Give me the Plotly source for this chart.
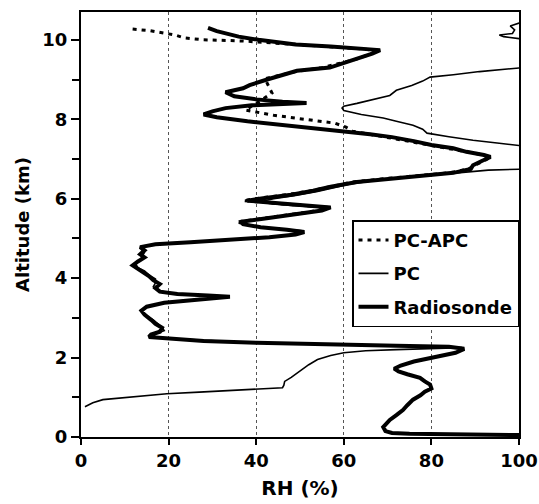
import plotly.graph_objects as go

# ---------------- data (RH in %, altitude in km) ----------------
radiosonde_alt = [0.05, 0.06, 0.08, 0.10, 0.15, 0.25, 0.43, 0.55, 0.68, 0.80, 0.94, 1.05, 1.14, 1.22,
                  1.32, 1.40, 1.49, 1.58, 1.65, 1.72, 1.80, 1.90, 2.03, 2.12, 2.22, 2.27, 2.30, 2.33,
                  2.37, 2.42, 2.47, 2.52, 2.58, 2.65, 2.75, 2.85, 2.95, 3.08, 3.18, 3.28, 3.38, 3.45,
                  3.50, 3.53, 3.56, 3.60, 3.66, 3.75, 3.85, 3.95, 4.05, 4.15, 4.25, 4.32, 4.42, 4.52,
                  4.60, 4.70, 4.78, 4.85, 4.90, 4.96, 5.03, 5.10, 5.16, 5.22, 5.28, 5.36, 5.42, 5.50,
                  5.60, 5.70, 5.78, 5.84, 5.90, 5.95, 6.02, 6.10, 6.20, 6.30, 6.42, 6.50, 6.58, 6.65,
                  6.75, 6.84, 6.95, 7.05, 7.10, 7.18, 7.27, 7.35, 7.45, 7.55, 7.62, 7.70, 7.78, 7.85,
                  7.95, 8.05, 8.12, 8.20, 8.28, 8.35, 8.39, 8.41, 8.44, 8.50, 8.58, 8.68, 8.78, 8.86,
                  9.00, 9.12, 9.22, 9.30, 9.42, 9.54, 9.65, 9.74, 9.78, 9.83, 9.88, 9.94, 10.00, 10.08,
                  10.15, 10.22, 10.30]
radiosonde_rh = [100, 85, 75, 71, 69.5, 69, 70.5, 72, 73.5, 74.5, 75.8, 77.5, 78.5, 80,
                 79.7, 78.5, 77.4, 74.5, 72.5, 71.5, 73, 76, 82, 85.5, 87.5, 84, 72, 55,
                 40, 28, 20, 15.5, 16, 18, 18.5, 17, 16, 14.5, 13.8, 15, 19, 25,
                 31, 34, 29, 22, 18, 17, 18, 16.5, 15.5, 14, 12.5, 11.8, 13, 14.5,
                 13.5, 14.5, 13.5, 17, 25, 35, 43, 49, 51, 47, 41, 37, 36.5, 42,
                 49, 55, 57, 50, 42, 38, 42, 48, 53, 57, 63, 70, 78, 85,
                 89, 89.5, 91.5, 93.5, 92, 88, 85, 80, 76, 71, 66, 59, 53, 46,
                 38, 31, 28, 30, 33, 39, 46, 51.5, 46, 40, 35, 33, 37, 38.5,
                 42.5, 46.5, 49.3, 56.8, 60, 63.7, 66.5, 68.3, 64, 57, 49, 44, 40.5, 36,
                 33, 31, 29]

pc_alt = [0.76, 0.86, 0.94, 0.97, 1.02, 1.09, 1.13, 1.16, 1.19, 1.22, 1.24, 1.30, 1.40, 1.50,
          1.62, 1.72, 1.82, 1.95, 2.05, 2.12, 2.17, 2.20, 2.23, 2.25, 2.28, 2.31, 2.35, 2.40,
          2.45, 2.50, 2.54, 2.60, 2.68, 2.76, 2.85, 2.95, 3.05, 3.15, 3.25, 3.33, 3.42, 3.48,
          3.52, 3.55, 3.58, 3.63, 3.70, 3.78, 3.88, 3.98, 4.08, 4.18, 4.26, 4.35, 4.45, 4.55,
          4.65, 4.75, 4.82, 4.88, 4.94, 5.00, 5.07, 5.13, 5.19, 5.24, 5.30, 5.38, 5.45, 5.55,
          5.64, 5.72, 5.78, 5.83, 5.88, 5.93, 6.00, 6.08, 6.18, 6.28, 6.38, 6.47, 6.55, 6.62,
          6.68, 6.72, 6.74, 6.76, 7.30, 7.34, 7.40, 7.47, 7.56, 7.65, 7.75, 7.85, 7.95, 8.03,
          8.12, 8.22, 8.28, 8.33, 8.40, 8.50, 8.60, 8.73, 8.85, 8.96, 9.06, 9.12, 9.20, 9.29,
          9.40, 10.00, 10.03, 10.08, 10.12, 10.16, 10.25, 10.35, 10.42, 10.50]
pc_rh = [0.9, 2.7, 5, 8, 13, 19.6, 27, 33, 39, 43, 46, 46.3, 46.5, 48,
         49.5, 50.5, 52, 54, 57, 60, 65, 72, 80, 87, 80, 65, 48, 34,
         24, 17, 15.8, 17, 19, 18.5, 17.5, 16.5, 15, 14, 14.5, 17, 22, 28,
         33, 30, 25, 20, 17.5, 16.5, 17, 17, 15.5, 14.5, 13, 12.5, 13.5, 14,
         14.5, 14, 15, 20, 30, 40, 47, 50, 50.5, 46, 40, 36, 38, 46,
         52, 56, 55, 48, 43, 41, 44, 49, 54, 58, 62, 68, 76, 83,
         88.5, 93, 100, 112, 115, 100, 95, 89.5, 84, 79, 78, 75.8, 72, 69,
         64, 60, 59.6, 60, 63, 67, 70.5, 72, 75.5, 78, 79.7, 85, 91, 100,
         112, 112, 100, 96.5, 95.5, 98.5, 99, 98, 100, 110]

apc_alt = [5.42, 5.50, 5.60, 5.70, 5.78, 5.84, 5.90, 5.95, 6.02, 6.10, 6.20, 6.30, 6.42, 6.50,
           6.58, 6.65, 6.75, 6.85, 6.95, 7.05, 7.12, 7.20, 7.30, 7.40, 7.50, 7.60, 7.70, 7.80,
           7.90, 8.00, 8.10, 8.18, 8.23, 8.40, 8.66, 9.02, 9.10, 9.20, 9.30, 9.40, 9.50, 9.62,
           9.73, 9.78, 9.83, 9.88, 9.93, 9.97, 10.00, 10.05, 10.12, 10.17, 10.23, 10.28]
apc_rh = [36, 41, 48, 54, 56.5, 50, 43, 37, 41, 47, 52.5, 56.5, 62, 69,
          77, 84, 88.5, 90, 92, 93.5, 91, 87, 82, 77, 72, 67, 62, 60.5,
          58, 51, 44, 40, 37.5, 40, 43.6, 42, 45, 49, 55, 59, 62.5, 65.5,
          68, 63, 56, 48.4, 42, 37, 28, 23.5, 21.5, 19, 15.7, 10.7]

x_ticks = [0, 20, 40, 60, 80, 100]
y_ticks = [0, 2, 4, 6, 8, 10]

FONT = "DejaVu Sans"

fig = go.Figure()
fig.add_trace(go.Scatter(x=radiosonde_rh, y=radiosonde_alt, mode="lines", name="Radiosonde",
                         line=dict(color="black", width=4), legendrank=3, legendgroup="c"))
fig.add_trace(go.Scatter(x=pc_rh, y=pc_alt, mode="lines", name="PC",
                         line=dict(color="black", width=1.6), legendrank=2, legendgroup="b"))
fig.add_trace(go.Scatter(x=apc_rh, y=apc_alt, mode="lines", name="PC-APC",
                         line=dict(color="black", width=3, dash="4px,5px"), legendrank=1, legendgroup="a"))

fig.update_layout(
    width=539, height=504,
    margin=dict(l=81, r=20, t=12, b=67),
    paper_bgcolor="white", plot_bgcolor="white",
    font=dict(family=FONT, size=18, color="black", weight="bold"),
    showlegend=True,
    legend=dict(x=1, xanchor="right", y=0.51, yanchor="top",
                bgcolor="white", bordercolor="black", borderwidth=1.5,
                font=dict(family=FONT, size=18, color="black", weight="bold"),
                itemwidth=30, tracegroupgap=7, traceorder="grouped"),
)
fig.update_xaxes(
    range=[0, 100], tickvals=x_ticks, ticks="outside", ticklen=6, tickwidth=2, tickcolor="black",
    showline=True, linewidth=2, linecolor="black", mirror=True, automargin=False,
    showgrid=True, gridcolor="#555", griddash="dot", gridwidth=1, zeroline=False,
    tickfont=dict(family=FONT, size=18, weight="bold"),
    title=dict(text="RH (%)", font=dict(family=FONT, size=20, weight="bold"), standoff=11),
)
fig.update_yaxes(
    range=[0, 10.7], tickvals=y_ticks, ticks="outside", ticklen=8, tickwidth=2, tickcolor="black",
    minor=dict(dtick=1, tick0=0, ticks="outside", ticklen=7, tickwidth=2, tickcolor="black", showgrid=False),
    showline=True, linewidth=2, linecolor="black", mirror=True, automargin=False,
    showgrid=False, zeroline=False,
    tickfont=dict(family=FONT, size=18, weight="bold"),
    title=dict(text="Altitude (km)", font=dict(family=FONT, size=18, weight="bold"), standoff=8),
)

fig.write_html("out.html", config={"displayModeBar": False},
               post_script="document.body.style.margin='0px';document.body.style.overflow='hidden';")
